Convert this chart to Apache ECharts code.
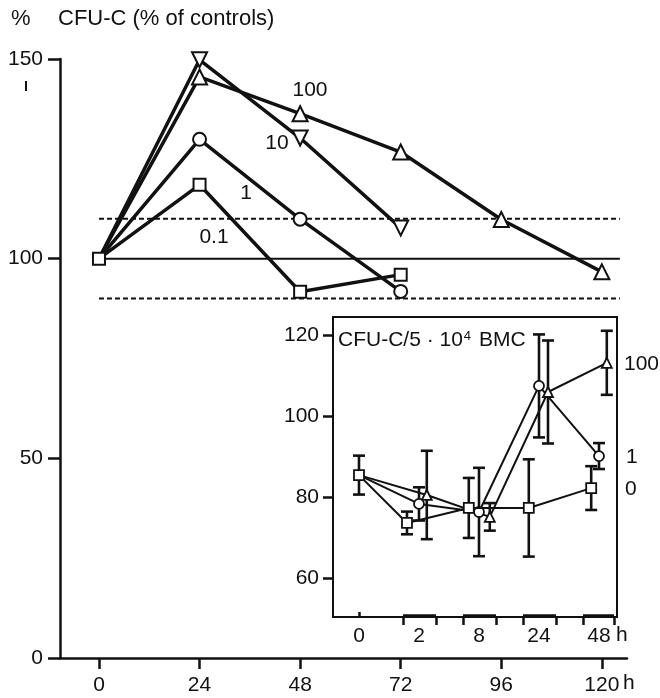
<!DOCTYPE html>
<html>
<head>
<meta charset="utf-8">
<script src="https://cdn.jsdelivr.net/npm/echarts@6/dist/echarts.min.js"></script>
<style>
html,body{margin:0;padding:0;background:#fff;}
#c{width:660px;height:698px;}
</style>
</head>
<body>
<div id="c"></div>
<script>
// ---------- main chart data ----------
const mainHours = [0, 24, 48, 72, 96, 120];
const mainTickLabels = ['0', '24', '48', '72', '96', '120'];
const dose100 = [100, 145.5, 136.3, 126.7, 109.8, 96.7];
const dose10 = [100, 149.8, 130.2, 107.7];
const dose1 = [100, 129.9, 109.9, 91.8];
const dose01 = [100, 118.5, 91.7, 96.0];
const yTicks = [0, 50, 100, 150];
const refDashed = [110, 90];
const refSolid = [100];
const refSpan = [0, 124.3];

// ---------- inset data ----------
const insetCats = ['0', '2', '8', '24', '48'];
const insetSlots = [0, 1, 2, 3, 4];
const insetYTicks = [60, 80, 100, 120];
const bracketStarts = [0.733, 1.733, 2.733, 3.733];
const bracketStops = [1.283, 2.283, 3.283, 4.25];
const sqX = [0, 0.80, 1.83, 2.83, 3.87];
const sqY = [85.4, 73.6, 77.3, 77.3, 82.2];
const sqErr = [4.8, 2.8, 7.4, 12.0, 5.4];
const ciX = [0, 1.00, 2.00, 3.00, 4.00];
const ciY = [85.4, 78.3, 76.3, 107.4, 90.1];
const ciErr = [null, 4.1, 10.9, 12.7, 3.2];
const trX = [0, 1.13, 2.18, 3.15, 4.13];
const trY = [85.4, 80.5, 75.1, 105.9, 113.1];
const trErr = [null, 10.9, 3.4, 12.7, 7.9];

const FONT = '"Liberation Sans", Arial, Helvetica, sans-serif';
const BLACK = '#111';
const INSET_YMIN = 50.4, INSET_YMAX = 124.4;

function mainSeries(vals, symbol, size, hideFirst) {
  return {
    type: 'line', xAxisIndex: 0, yAxisIndex: 0,
    data: vals.map((v, i) => (hideFirst && i === 0) ? {value: [mainHours[i], v], symbol: 'none'} : [mainHours[i], v]),
    symbol: symbol, symbolSize: size,
    lineStyle: {color: BLACK, width: 3.5},
    itemStyle: {color: '#fff', borderColor: BLACK, borderWidth: 2},
    z: hideFirst ? 3 : 4, animation: false
  };
}
function refSeries(level, dashed) {
  return {
    type: 'line', xAxisIndex: 0, yAxisIndex: 0, symbol: 'none',
    data: refSpan.map(x => [x, level]),
    lineStyle: {color: BLACK, width: 2, type: dashed ? [5, 3] : 'solid'},
    z: 1, animation: false
  };
}
function insetLine(xs, ys, symbol, size) {
  return {
    type: 'line', xAxisIndex: 1, yAxisIndex: 1,
    data: ys.map((v, i) => (symbol !== 'rect' && i === 0) ? {value: [xs[i], v], symbol: 'none'} : [xs[i], v]),
    symbol: symbol, symbolSize: size,
    lineStyle: {color: BLACK, width: 2},
    itemStyle: {color: '#fff', borderColor: BLACK, borderWidth: 1.8},
    z: symbol === 'rect' ? 6 : 5, animation: false
  };
}
function errSeries(xs, ys, errs) {
  const d = [];
  xs.forEach((x, i) => { if (errs[i] != null) d.push([x, ys[i], errs[i]]); });
  return {
    type: 'custom', xAxisIndex: 1, yAxisIndex: 1, z: 2, animation: false,
    data: d,
    renderItem: function (params, api) {
      const x = api.value(0), y = api.value(1), e = api.value(2);
      const top = api.coord([x, y + e]);
      const bot = api.coord([x, y - e]);
      const w = 6;
      const st = {stroke: BLACK, lineWidth: 2.6};
      return {
        type: 'group', children: [
          {type: 'line', shape: {x1: top[0], y1: top[1], x2: bot[0], y2: bot[1]}, style: st},
          {type: 'line', shape: {x1: top[0] - w, y1: top[1], x2: top[0] + w, y2: top[1]}, style: st},
          {type: 'line', shape: {x1: bot[0] - w, y1: bot[1], x2: bot[0] + w, y2: bot[1]}, style: st}
        ]
      };
    }
  };
}
const bracketSeries = {
  type: 'custom', xAxisIndex: 1, yAxisIndex: 1, z: 20, animation: false, clip: false,
  data: bracketStarts.map((s, i) => [s, bracketStops[i]]),
  renderItem: function (params, api) {
    const a = api.coord([api.value(0), INSET_YMIN]);
    const b = api.coord([api.value(1), INSET_YMIN]);
    return {type: 'line', shape: {x1: a[0], y1: a[1] - 1, x2: b[0], y2: b[1] - 1}, style: {stroke: BLACK, lineWidth: 3.5}};
  }
};

const txt = (t, x, y, size, align) => ({
  type: 'text', x: x, y: y, z: 100,
  style: {text: t, font: size + 'px ' + FONT, fill: BLACK, textAlign: align || 'left', textVerticalAlign: 'middle'}
});

const chart = echarts.init(document.getElementById('c'), null, {renderer: 'canvas'});
chart.setOption({
  backgroundColor: '#fff',
  animation: false,
  grid: [
    {left: 60, right: 33, top: 59, bottom: 40, containLabel: false},
    {left: 333, right: 43, top: 317, bottom: 81, show: true, borderColor: BLACK, borderWidth: 2, backgroundColor: '#fff'}
  ],
  xAxis: [
    {
      type: 'value', gridIndex: 0, min: -9.3, max: 126.0,
      axisLine: {show: true, onZero: false, lineStyle: {color: BLACK, width: 2.5}},
      axisTick: {show: true, customValues: mainHours, length: 11, lineStyle: {color: BLACK, width: 2.5}},
      axisLabel: {show: true, customValues: mainHours, formatter: v => mainTickLabels[mainHours.indexOf(v)], margin: 17, color: BLACK, fontSize: 21, fontFamily: FONT},
      splitLine: {show: false}
    },
    {
      type: 'value', gridIndex: 1, min: -0.433, max: 4.3, position: 'bottom',
      axisLine: {show: false, onZero: false},
      axisTick: {show: true, inside: true, customValues: [0], length: 5, lineStyle: {color: BLACK, width: 2.5}},
      axisLabel: {show: true, customValues: insetSlots, formatter: v => insetCats[insetSlots.indexOf(v)], margin: 9, color: BLACK, fontSize: 21, fontFamily: FONT},
      splitLine: {show: false}
    },
    {
      type: 'value', gridIndex: 1, min: -0.433, max: 4.3, position: 'bottom',
      axisLine: {show: false, onZero: false},
      axisTick: {show: true, customValues: bracketStarts.concat(bracketStops), length: 8, lineStyle: {color: BLACK, width: 2.5}},
      axisLabel: {show: false},
      splitLine: {show: false}
    }
  ],
  yAxis: [
    {
      type: 'value', gridIndex: 0, min: 0, max: 150, interval: 50,
      axisLine: {show: true, onZero: false, lineStyle: {color: BLACK, width: 2.5}},
      axisTick: {show: true, length: 12, lineStyle: {color: BLACK, width: 2.5}},
      axisLabel: {margin: 17, color: BLACK, fontSize: 21, fontFamily: FONT},
      splitLine: {show: false}
    },
    {
      type: 'value', gridIndex: 1, min: INSET_YMIN, max: INSET_YMAX,
      axisLine: {show: false, onZero: false},
      axisTick: {show: true, customValues: insetYTicks, length: 10, lineStyle: {color: BLACK, width: 2.5}},
      axisLabel: {show: true, customValues: insetYTicks, margin: 14, color: BLACK, fontSize: 21, fontFamily: FONT},
      splitLine: {show: false}
    }
  ],
  graphic: [
    txt('%', 11, 19, 22),
    txt('CFU-C (% of controls)', 58, 19, 22),
    {type: 'rect', shape: {x: 25, y: 81, width: 2, height: 10}, style: {fill: BLACK}},
    txt('100', 310, 90, 21, 'center'),
    txt('10', 277, 143, 21, 'center'),
    txt('1', 246, 193, 21, 'center'),
    txt('0.1', 214, 237, 21, 'center'),
    txt('h', 623, 683, 21),
    txt('h', 616, 635, 21),
    txt('100', 624, 364, 21),
    txt('1', 626, 457, 21),
    txt('0', 625, 489, 21),
    {
      type: 'text', x: 338, y: 340, z: 100,
      style: {
        text: 'CFU-C/5 · 10{s|4} BMC', font: '21px ' + FONT, fill: BLACK, textVerticalAlign: 'middle',
        rich: {s: {fontSize: 13, fontFamily: FONT, fill: BLACK, verticalAlign: 'top', padding: [0, 2, 8, 1]}}
      }
    }
  ],
  series: [
    refSeries(refDashed[0], true),
    refSeries(refDashed[1], true),
    refSeries(refSolid[0], false),
    mainSeries(dose100, 'triangle', 15, true),
    {...mainSeries(dose10, 'triangle', 15, true), symbolRotate: 180},
    mainSeries(dose1, 'circle', 13, true),
    mainSeries(dose01, 'rect', 12, false),
    errSeries(sqX, sqY, sqErr),
    errSeries(ciX, ciY, ciErr),
    errSeries(trX, trY, trErr),
    insetLine(trX, trY, 'triangle', 10),
    insetLine(ciX, ciY, 'circle', 10),
    insetLine(sqX, sqY, 'rect', 10),
    bracketSeries
  ]
});
</script>
</body>
</html>
